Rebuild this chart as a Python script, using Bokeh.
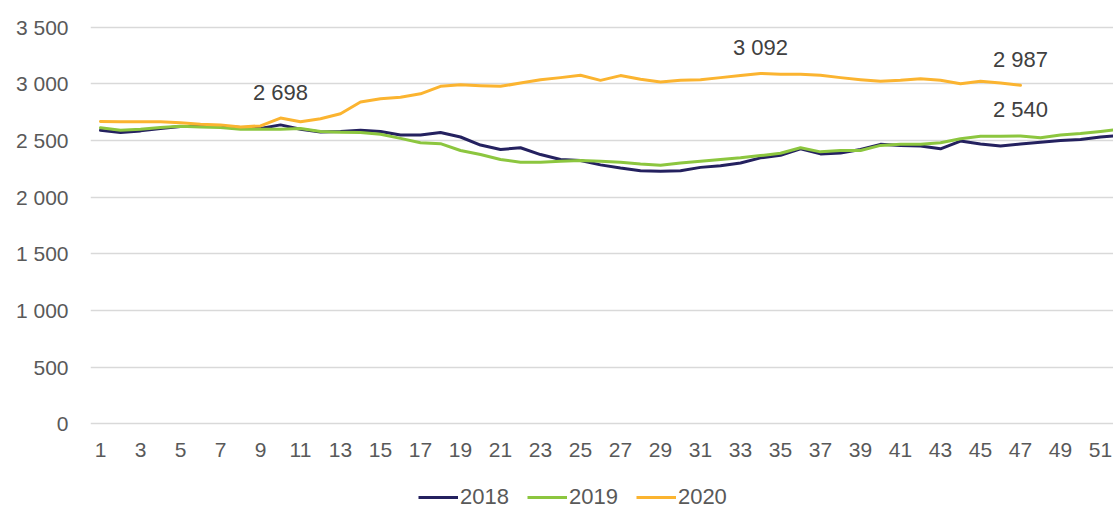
from bokeh.plotting import figure
from bokeh.layouts import column
from bokeh.models import (ColumnDataSource, Range1d, FixedTicker, Legend, LegendItem,
                          LabelSet)
from bokeh.core.properties import value
from bokeh.embed import file_html
from bokeh.resources import INLINE

# ---------------- data ----------------
weeks_2018 = list(range(1, 53))
values_2018 = [2590, 2570, 2585, 2606, 2623, 2623, 2629, 2614, 2606, 2638,
               2600, 2576, 2579, 2591, 2579, 2549, 2549, 2570, 2531, 2460,
               2421, 2436, 2376, 2332, 2323, 2285, 2257, 2234, 2228, 2234,
               2263, 2278, 2302, 2347, 2370, 2427, 2382, 2390, 2421, 2466,
               2457, 2451, 2427, 2495, 2470, 2451, 2470, 2484, 2500, 2508,
               2531, 2545]

weeks_2019 = list(range(1, 53))
values_2019 = [2612, 2591, 2600, 2614, 2626, 2620, 2614, 2600, 2600, 2600,
               2606, 2579, 2573, 2570, 2555, 2519, 2481, 2472, 2412, 2376,
               2332, 2308, 2308, 2317, 2323, 2317, 2308, 2293, 2282, 2302,
               2317, 2332, 2347, 2367, 2388, 2436, 2400, 2412, 2412, 2457,
               2466, 2466, 2481, 2516, 2537, 2537, 2540, 2525, 2549, 2561,
               2579, 2600]

weeks_2020 = list(range(1, 48))
values_2020 = [2668, 2665, 2665, 2665, 2656, 2644, 2638, 2620, 2629, 2698,
               2665, 2692, 2736, 2840, 2868, 2882, 2912, 2978, 2993, 2984,
               2978, 3007, 3037, 3055, 3076, 3031, 3073, 3040, 3016, 3031,
               3037, 3055, 3073, 3092, 3085, 3085, 3076, 3055, 3037, 3022,
               3031, 3046, 3031, 3001, 3022, 3007, 2987]

series_names = ["2018", "2019", "2020"]
series_colors = ["#24215f", "#8cc63f", "#fbb430"]

x_ticks = list(range(1, 52, 2))
y_ticks = [0, 500, 1000, 1500, 2000, 2500, 3000, 3500]
y_tick_labels = ["0", "500", "1 000", "1 500", "2 000", "2 500", "3 000", "3 500"]

label_weeks = [10, 34, 47, 47]
label_values = [2698, 3092, 2987, 2540]
label_texts = ["2 698", "3 092", "2 987", "2 540"]

all_weeks = [weeks_2018, weeks_2019, weeks_2020]
all_values = [values_2018, values_2019, values_2020]

# ---------------- main figure ----------------
FONT = "Liberation Sans"
TXT = "#595959"
FS = "21px"
FS_BIG = "22px"

p = figure(width=1113, height=465, output_backend="svg", toolbar_location=None,
           x_range=Range1d(0.5, 51.65), y_range=Range1d(-15, 3515),
           min_border_left=90, min_border_right=0, min_border_top=25,
           min_border_bottom=40)
p.outline_line_color = None
p.background_fill_color = "white"
p.border_fill_color = "white"

p.xgrid.grid_line_color = None
p.ygrid.grid_line_color = "#d9d9d9"
p.ygrid.grid_line_width = 1.5
p.ygrid.ticker = FixedTicker(ticks=y_ticks)

p.yaxis.ticker = FixedTicker(ticks=y_ticks)
p.yaxis.major_label_overrides = {t: s for t, s in zip(y_ticks, y_tick_labels)}
p.yaxis.axis_line_color = None
p.yaxis.major_tick_line_color = None
p.yaxis.minor_tick_line_color = None
p.yaxis.major_label_standoff = 16
p.yaxis.major_label_text_font = FONT
p.yaxis.major_label_text_font_size = FS
p.yaxis.major_label_text_color = TXT

p.xaxis.ticker = FixedTicker(ticks=x_ticks)
p.xaxis.axis_line_color = None
p.xaxis.major_tick_line_color = None
p.xaxis.minor_tick_line_color = None
p.xaxis.major_label_standoff = 11
p.xaxis.major_label_text_font = FONT
p.xaxis.major_label_text_font_size = FS
p.xaxis.major_label_text_color = TXT

for wk, vals, col in zip(all_weeks, all_values, series_colors):
    src = ColumnDataSource(dict(x=wk, y=vals))
    p.line("x", "y", source=src, line_color=col, line_width=3,
           line_join="round", line_cap="round")

lab_src = ColumnDataSource(dict(x=label_weeks, y=label_values, t=label_texts))
labels = LabelSet(x="x", y="y", text="t", source=lab_src, y_offset=26,
                  text_align="center", text_baseline="middle",
                  text_font=value(FONT), text_font_size=FS_BIG, text_color="#404040")
p.add_layout(labels)

# ---------------- legend strip ----------------
# the same series are drawn here outside the visible range; only the legend shows
lf = figure(width=1113, height=45, output_backend="svg", toolbar_location=None,
            x_axis_type=None, y_axis_type=None,
            x_range=Range1d(0, 1), y_range=Range1d(0, 1),
            min_border_left=0, min_border_right=0, min_border_top=0,
            min_border_bottom=0)
lf.outline_line_color = None
lf.xgrid.grid_line_color = None
lf.ygrid.grid_line_color = None

items = []
for name, wk, vals, col in zip(series_names, all_weeks, all_values, series_colors):
    src = ColumnDataSource(dict(x=wk, y=vals))
    r = lf.line("x", "y", source=src, line_color=col, line_width=3)
    items.append(LegendItem(label=name, renderers=[r]))

legend = Legend(items=items, orientation="horizontal", location=(328, 0),
                label_text_font=FONT, label_text_font_size=FS_BIG, label_text_color=TXT,
                glyph_width=40, glyph_height=16, label_standoff=2,
                spacing=18, padding=0, margin=0, border_line_color=None,
                background_fill_alpha=0)
lf.add_layout(legend, "center")

layout = column(p, lf, spacing=0)
open("out.html", "w").write(file_html(layout, INLINE))
